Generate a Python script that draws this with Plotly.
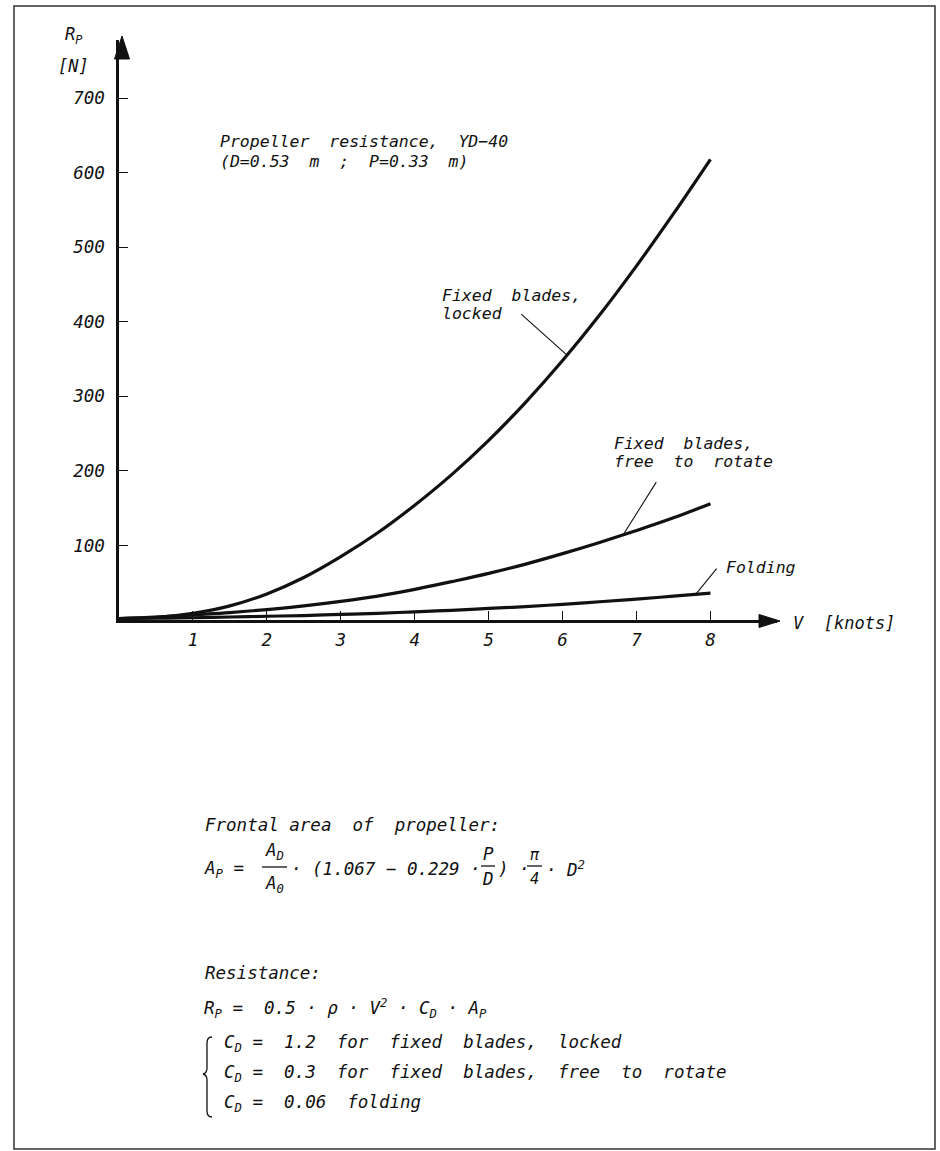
import numpy as np
import plotly.graph_objects as go

# ---- data ----
speed_knots = [0, 0.5, 1, 1.5, 2, 2.5, 3, 3.5, 4, 4.5, 5, 5.5, 6, 6.5, 7, 7.5, 8]
r_locked = [2, 3.5, 9, 19, 35, 57, 85, 117, 154, 195, 241, 292, 348, 409, 475, 545, 618]
r_free = [2, 4, 7, 10, 14, 19, 25, 32, 41, 51.5, 62.5, 75, 89, 104, 120, 137, 156]
r_folding = [2, 2.5, 3, 4, 5, 6, 7.5, 9, 11, 13, 15.5, 18, 21, 24.5, 28, 32, 36]

x_ticks = [1, 2, 3, 4, 5, 6, 7, 8]
y_ticks = [100, 200, 300, 400, 500, 600, 700]

W, H = 940, 1151
FONT = "DejaVu Sans Mono"
INK = "#111111"


def px(x):
    return x / W


def py(y):
    return 1 - y / H


fig = go.Figure()
for vals in (r_locked, r_free, r_folding):
    fig.add_trace(go.Scatter(x=speed_knots, y=vals, mode="lines",
                             line=dict(color=INK, width=3.2, shape="spline"),
                             showlegend=False, hoverinfo="skip"))

fig.update_layout(
    width=W, height=H,
    margin=dict(l=0, r=0, t=0, b=0),
    paper_bgcolor="white", plot_bgcolor="white",
    font=dict(family=FONT, style="italic", color=INK, size=16),
    xaxis=dict(domain=[119 / W, 777 / W], range=[0, 8.9], showgrid=False, zeroline=False,
               showline=True, linecolor=INK, linewidth=2.5,
               ticks="inside", ticklen=9, tickwidth=1.3, tickcolor=INK,
               tickvals=x_ticks, ticktext=[str(v) for v in x_ticks],
               tickfont=dict(family=FONT, style="italic", size=17.5, color=INK),
               ticklabelstandoff=2, fixedrange=True),
    yaxis=dict(domain=[1 - 620 / H, 1 - 40 / H], range=[0, 778], showgrid=False, zeroline=False,
               showline=True, linecolor=INK, linewidth=2.5,
               ticks="inside", ticklen=9, tickwidth=1.3, tickcolor=INK,
               tickvals=y_ticks, ticktext=[str(v) for v in y_ticks],
               tickfont=dict(family=FONT, style="italic", size=17.5, color=INK),
               ticklabelstandoff=8, fixedrange=True),
)

shapes = []
# outer frame
shapes.append(dict(type="rect", xref="paper", yref="paper",
                   x0=px(14), x1=px(935), y0=py(1149), y1=py(6),
                   line=dict(color="#333333", width=1.5)))
# axis arrowheads
shapes.append(dict(type="path", xref="paper", yref="paper",
                   path=f"M {px(122)} {py(36)} L {px(114.5)} {py(59)} L {px(129.5)} {py(59)} Z",
                   fillcolor=INK, line=dict(color=INK, width=1)))
shapes.append(dict(type="path", xref="paper", yref="paper",
                   path=f"M {px(780)} {py(621)} L {px(759)} {py(614.5)} L {px(759)} {py(627.5)} Z",
                   fillcolor=INK, line=dict(color=INK, width=1)))
# fraction bars in formula
for x0, x1, yy in [(262, 287, 867), (481, 495, 866), (527, 542, 866)]:
    shapes.append(dict(type="line", xref="paper", yref="paper",
                       x0=px(x0), x1=px(x1), y0=py(yy), y1=py(yy),
                       line=dict(color=INK, width=1.3)))
# curly brace
bx = 207
shapes.append(dict(type="path", xref="paper", yref="paper",
                   path=(f"M {px(bx+5)} {py(1037)} Q {px(bx)} {py(1037)} {px(bx)} {py(1043)} "
                         f"L {px(bx)} {py(1068)} Q {px(bx)} {py(1073)} {px(bx-4)} {py(1074)} "
                         f"Q {px(bx)} {py(1075)} {px(bx)} {py(1080)} L {px(bx)} {py(1111)} "
                         f"Q {px(bx)} {py(1117)} {px(bx+5)} {py(1117)}"),
                   line=dict(color=INK, width=1.3)))
fig.update_layout(shapes=shapes)

ann = []


def txt(x, y, s, size=16, xanchor="left"):
    ann.append(dict(x=px(x), y=py(y), xref="paper", yref="paper", text=s, showarrow=False,
                    xanchor=xanchor, yanchor="middle",
                    font=dict(family=FONT, style="italic", size=size, color=INK)))


NB = "\u00a0"
# axis titles
txt(63, 36, "R<sub>P</sub>", 17)
txt(56, 66, "[N]", 17)
txt(791, 623, f"V{NB}{NB}[knots]", 17)

# title
txt(218, 142, f"Propeller{NB}{NB}resistance,{NB}{NB}YD−40", 16.5)
txt(218, 161, f"(D=0.53{NB}{NB}m{NB}{NB};{NB}{NB}P=0.33{NB}{NB}m)", 16.5)

# curve labels
txt(440, 295, f"Fixed{NB}{NB}blades,", 16.5)
txt(440, 314, "locked", 16.5)
txt(612, 443, f"Fixed{NB}{NB}blades,", 16.5)
txt(612, 462, f"free{NB}{NB}to{NB}{NB}rotate", 16.5)
txt(724, 567, "Folding", 16.5)


# leader lines (tail in data coords, tip on the curve)
def leader(x_tip, series, x_tail, y_tail):
    y_tip = float(np.interp(x_tip, speed_knots, series))
    ann.append(dict(x=x_tip, y=y_tip, xref="x", yref="y", ax=x_tail, ay=y_tail,
                    axref="x", ayref="y", text="", showarrow=True, arrowhead=0,
                    arrowwidth=1.1, arrowcolor=INK))


leader(6.06, r_locked, 5.42, 412)
leader(6.82, r_free, 7.28, 187)
leader(7.8, r_folding, 8.1, 71)

# bottom formulas
BS = 17.5
txt(203, 825, f"Frontal{NB}area{NB}{NB}of{NB}{NB}propeller:", BS)
txt(202, 869, "A<sub>P</sub> =", BS)
txt(274.5, 851, "A<sub>D</sub>", BS, "center")
txt(274.5, 884, "A<sub>0</sub>", BS, "center")
txt(289, 869, f"·{NB}(1.067{NB}−{NB}0.229{NB}·", BS)
txt(488, 854, "P", BS, "center")
txt(488, 879, "D", BS, "center")
txt(496, 869, f"){NB}·", BS)
txt(534.5, 855, "π", BS - 2, "center")
txt(534.5, 879, "4", BS - 2, "center")
txt(544, 869, f"·{NB}D<sup>2</sup>", BS)

txt(203, 973, "Resistance:", BS)
txt(202, 1008, f"R<sub>P</sub>{NB}={NB}{NB}0.5{NB}·{NB}ρ{NB}·{NB}V<sup>2</sup>{NB}·{NB}C<sub>D</sub>{NB}·{NB}A<sub>P</sub>", BS)
txt(222, 1043, f"C<sub>D</sub>{NB}={NB}{NB}1.2{NB}{NB}for{NB}{NB}fixed{NB}{NB}blades,{NB}{NB}locked", BS)
txt(222, 1073, f"C<sub>D</sub>{NB}={NB}{NB}0.3{NB}{NB}for{NB}{NB}fixed{NB}{NB}blades,{NB}{NB}free{NB}{NB}to{NB}{NB}rotate", BS)
txt(222, 1103, f"C<sub>D</sub>{NB}={NB}{NB}0.06{NB}{NB}folding", BS)

fig.update_layout(annotations=ann)
fig.write_html("out.html",
               config={"displayModeBar": False, "displaylogo": False},
               post_script="document.body.style.margin='0';document.body.style.overflow='hidden';")
